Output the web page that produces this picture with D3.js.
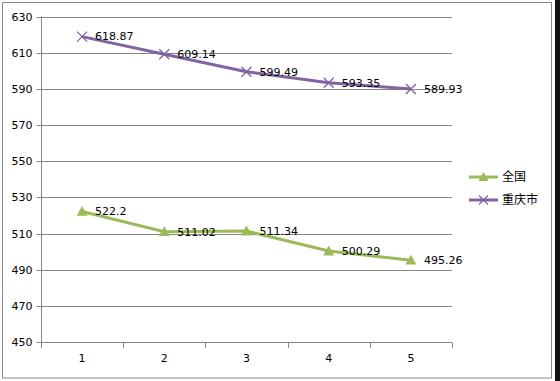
<!DOCTYPE html>
<html><head><meta charset="utf-8">
<script src="https://cdn.jsdelivr.net/npm/d3@7"></script>
<style>body{margin:0;background:#fff}svg{display:block}</style>
</head><body>
<script>
const categories = ["1","2","3","4","5"];
const nationalValues = [522.2, 511.02, 511.34, 500.29, 495.26];
const chongqingValues = [618.87, 609.14, 599.49, 593.35, 589.93];
const seriesNames = ["全国", "重庆市"];
const yTicks = [450,470,490,510,530,550,570,590,610,630];

const W=560,H=381;
const svg=d3.select("body").append("svg").attr("width",W).attr("height",H);
svg.append("rect").attr("x",0).attr("y",0).attr("width",W).attr("height",H).attr("fill","#fff");
svg.append("rect").attr("x",555).attr("y",0).attr("width",5).attr("height",H).attr("fill","#111");
svg.append("rect").attr("x",2.5).attr("y",2.5).attr("width",549).attr("height",375.5)
  .attr("fill","none").attr("stroke","#8a8a8a").attr("stroke-width",1);

const x=d3.scaleBand().domain(categories).range([41,452]);
const y=d3.scaleLinear().domain([450,630]).range([342,16.5]);
const font="DejaVu Sans, Verdana, sans-serif";

// gridlines
svg.append("g").selectAll("line").data(yTicks.slice(1)).join("line")
  .attr("x1",41).attr("x2",452).attr("y1",d=>Math.round(y(d))+0.5).attr("y2",d=>Math.round(y(d))+0.5)
  .attr("stroke","#878787").attr("stroke-width",1);

// y axis
const ya=svg.append("g").attr("transform","translate(41.5,0)")
  .call(d3.axisLeft(y).tickValues(yTicks).tickSize(5).tickPadding(4).tickFormat(d3.format("d")));
ya.select(".domain").attr("stroke","#878787").attr("d","M0,"+y(630)+"V"+(y(450)+0.5));
ya.selectAll(".tick line").attr("stroke","#878787");
ya.selectAll(".tick").attr("transform",d=>"translate(0,"+(Math.round(y(d))+0.5)+")");
ya.selectAll("text").attr("font-family",font).attr("font-size",11).attr("fill","#000");

// x axis
const xa=svg.append("g").attr("transform","translate(0,342.5)")
  .call(d3.axisBottom(x).tickSize(0).tickPadding(12));
xa.select(".domain").attr("stroke","#878787").attr("d","M41,0H452");
xa.selectAll("text").attr("font-family",font).attr("font-size",11).attr("fill","#000");
const bounds=[41].concat(categories.map(c=>x(c)+x.bandwidth()));
svg.append("g").selectAll("line").data(bounds).join("line")
  .attr("x1",d=>Math.round(d)+0.5).attr("x2",d=>Math.round(d)+0.5).attr("y1",342.5).attr("y2",348)
  .attr("stroke","#878787");

const cx=c=>x(c)+x.bandwidth()/2;
const line=d3.line().x((d,i)=>cx(categories[i])).y(d=>y(d));
const green="#9BBB59", purple="#8064A2";

function triangle(g,px,py,s){
  g.append("path").attr("d",`M${px},${py-s}L${px+s},${py+s*0.8}L${px-s},${py+s*0.8}Z`).attr("fill",green);
}
function cross(g,px,py,s){
  g.append("path").attr("d",`M${px-s},${py-s}L${px+s},${py+s}M${px-s},${py+s}L${px+s},${py-s}`)
    .attr("stroke",purple).attr("stroke-width",1.3).attr("fill","none");
}

// series
svg.append("path").datum(nationalValues).attr("d",line).attr("fill","none").attr("stroke",green).attr("stroke-width",3);
svg.append("path").datum(chongqingValues).attr("d",line).attr("fill","none").attr("stroke",purple).attr("stroke-width",3);
const mg=svg.append("g");
nationalValues.forEach((v,i)=>triangle(mg,cx(categories[i]),y(v),5.5));
chongqingValues.forEach((v,i)=>cross(mg,cx(categories[i]),y(v),5));

// labels
const lg=svg.append("g").attr("font-family",font).attr("font-size",11).attr("fill","#000");
nationalValues.forEach((v,i)=>lg.append("text").attr("x",cx(categories[i])+13).attr("y",y(v)).attr("dy","0.35em").text(v));
chongqingValues.forEach((v,i)=>lg.append("text").attr("x",cx(categories[i])+13).attr("y",y(v)).attr("dy","0.35em").text(v));

// legend
const leg=svg.append("g");
leg.append("line").attr("x1",469).attr("x2",498).attr("y1",177).attr("y2",177).attr("stroke",green).attr("stroke-width",3);
triangle(leg,483.5,177,5);
leg.append("line").attr("x1",469).attr("x2",498).attr("y1",200).attr("y2",200).attr("stroke",purple).attr("stroke-width",3);
cross(leg,483.5,200,4.5);
leg.append("text").attr("x",502).attr("y",177).attr("dy","0.35em").attr("font-family","Noto Sans CJK SC").attr("font-size",12).text(seriesNames[0]);
leg.append("text").attr("x",502).attr("y",200).attr("dy","0.35em").attr("font-family","Noto Sans CJK SC").attr("font-size",12).text(seriesNames[1]);
</script>
</body></html>
